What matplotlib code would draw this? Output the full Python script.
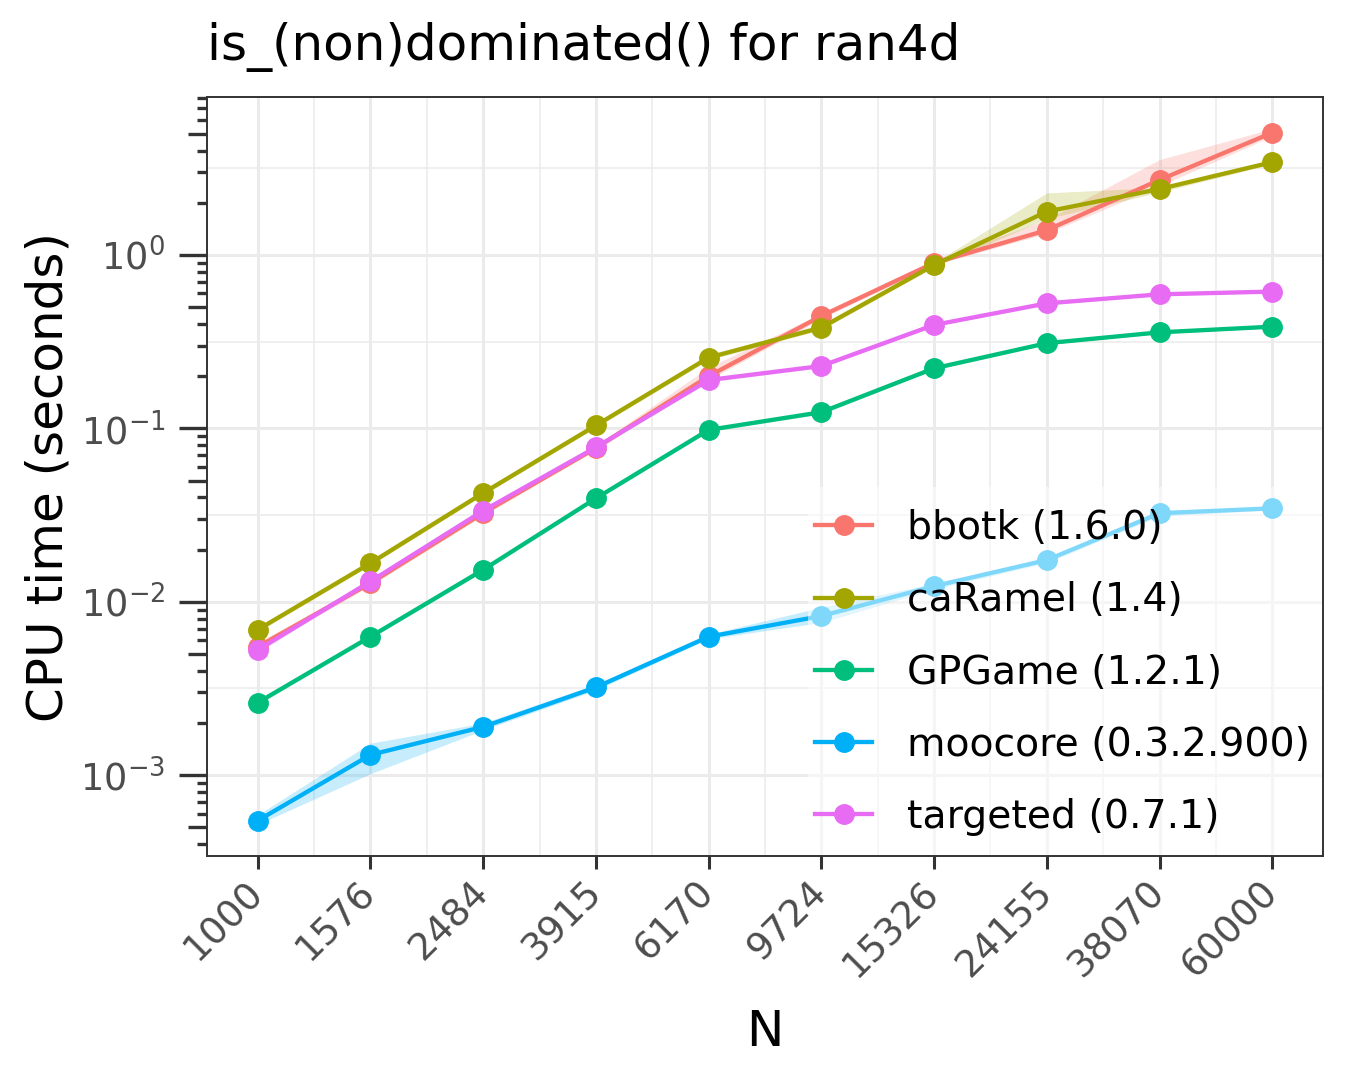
import numpy as np
import matplotlib
matplotlib.use("Agg")
import matplotlib.pyplot as plt
from matplotlib.patches import Rectangle
from matplotlib.ticker import FixedLocator, NullFormatter, FixedFormatter

# data
n_values = [1000, 1576, 2484, 3915, 6170, 9724, 15326, 24155, 38070, 60000]
n_labels = [str(n) for n in n_values]

packages = ["bbotk (1.6.0)", "caRamel (1.4)", "GPGame (1.2.1)",
            "moocore (0.3.2.900)", "targeted (0.7.1)"]
colors = ["#F8766D", "#A3A500", "#00BF7D", "#00B0F6", "#E76BF3"]

bbotk = [5.5e-3, 0.0128, 0.0325, 0.077, 0.20, 0.445, 0.90, 1.39, 2.71, 5.07]
bbotk_lo = [5.3e-3, 0.0124, 0.0315, 0.075, 0.19, 0.43, 0.88, 1.33, 2.50, 4.85]
bbotk_hi = [5.8e-3, 0.0133, 0.0335, 0.080, 0.225, 0.46, 0.93, 1.60, 3.55, 5.35]

caramel = [6.9e-3, 0.0167, 0.0424, 0.104, 0.256, 0.381, 0.875, 1.78, 2.40, 3.43]
caramel_lo = [6.7e-3, 0.0162, 0.0412, 0.101, 0.248, 0.37, 0.85, 1.62, 2.30, 3.35]
caramel_hi = [7.1e-3, 0.0172, 0.0436, 0.107, 0.265, 0.40, 0.90, 2.28, 2.45, 3.52]

gpgame = [2.62e-3, 6.29e-3, 0.0153, 0.0395, 0.098, 0.124, 0.222, 0.31, 0.358, 0.386]
gpgame_lo = [2.55e-3, 6.15e-3, 0.0150, 0.0388, 0.096, 0.121, 0.218, 0.305, 0.352, 0.380]
gpgame_hi = [2.70e-3, 6.45e-3, 0.0157, 0.0402, 0.100, 0.127, 0.226, 0.316, 0.364, 0.392]

moocore = [5.47e-4, 1.31e-3, 1.90e-3, 3.21e-3, 6.29e-3, 8.28e-3, 0.0123, 0.0174, 0.0324, 0.0346]
moocore_lo = [5.2e-4, 1.02e-3, 1.82e-3, 3.10e-3, 6.10e-3, 7.6e-3, 0.0118, 0.0168, 0.0312, 0.0338]
moocore_hi = [5.9e-4, 1.53e-3, 2.00e-3, 3.35e-3, 6.50e-3, 9.3e-3, 0.0128, 0.0180, 0.0336, 0.0354]

targeted = [5.27e-3, 0.0131, 0.0335, 0.0778, 0.19, 0.229, 0.395, 0.526, 0.593, 0.615]
targeted_lo = [5.1e-3, 0.0127, 0.0326, 0.0760, 0.185, 0.224, 0.388, 0.518, 0.585, 0.607]
targeted_hi = [5.45e-3, 0.0135, 0.0344, 0.0795, 0.196, 0.234, 0.402, 0.534, 0.601, 0.623]

series = [bbotk, caramel, gpgame, moocore, targeted]
lows = [bbotk_lo, caramel_lo, gpgame_lo, moocore_lo, targeted_lo]
highs = [bbotk_hi, caramel_hi, gpgame_hi, moocore_hi, targeted_hi]

y_decades = [1e-3, 1e-2, 1e-1, 1e0]
y_labels = ["$10^{-3}$", "$10^{-2}$", "$10^{-1}$", "$10^{0}$"]

grid_col = "#EBEBEB"
dark = "#333333"
tick_text = "#4D4D4D"

W, H = 1350, 1080
fig = plt.figure(figsize=(13.5, 10.8), dpi=100)
ax = fig.add_axes([207 / W, 1 - 856 / H, (1323 - 207) / W, (856 - 97) / H])
ax.set_xscale("log")
ax.set_yscale("log")

# limits with ggplot-like 5% expansion (log space)
lx = np.log10(n_values)
span = lx[-1] - lx[0]
ax.set_xlim(10 ** (lx[0] - 0.05 * span), 10 ** (lx[-1] + 0.05 * span))
ax.set_ylim(10 ** -3.466, 10 ** 0.911)

# grid
for xv in n_values:
    ax.axvline(xv, color=grid_col, lw=2.2, zorder=0)
for a, b in zip(lx[:-1], lx[1:]):
    ax.axvline(10 ** ((a + b) / 2), color=grid_col, lw=1.1, zorder=0)
for yv in y_decades:
    ax.axhline(yv, color=grid_col, lw=2.2, zorder=0)
for k in range(-4, 1):
    ax.axhline(10 ** (k + 0.5), color=grid_col, lw=1.1, zorder=0)

for vals, lo, hi, col in zip(series, lows, highs, colors):
    ax.fill_between(n_values, lo, hi, color=col, alpha=0.22, lw=0, zorder=2)
for vals, col, lab in zip(series, colors, packages):
    ax.plot(n_values, vals, color=col, lw=3.1, marker="o", ms=14,
            label=lab, zorder=3)

# x axis
ax.xaxis.set_major_locator(FixedLocator(n_values))
ax.xaxis.set_major_formatter(FixedFormatter(n_labels))
ax.xaxis.set_minor_locator(FixedLocator([]))
ax.tick_params(axis="x", which="major", length=9.4, width=2.2, color=dark,
               labelsize=27, labelcolor=tick_text, pad=13)
for lbl in ax.get_xticklabels():
    lbl.set_rotation(45)
    lbl.set_ha("right")
    lbl.set_va("center")
    lbl.set_rotation_mode("anchor")

# y axis: decades labelled, log ticks outside
ax.yaxis.set_major_locator(FixedLocator(y_decades))
ax.yaxis.set_major_formatter(FixedFormatter(y_labels))
minor_y = [m * 10.0 ** k for k in range(-4, 1) for m in (2, 3, 4, 6, 7, 8, 9)]
ax.yaxis.set_minor_locator(FixedLocator(minor_y))
ax.yaxis.set_minor_formatter(NullFormatter())
ax.tick_params(axis="y", which="major", length=20, width=2.4, color=dark,
               labelsize=26.5, labelcolor=tick_text, pad=10)
ax.tick_params(axis="y", which="minor", length=7.2, width=2.4, color=dark)

mid = ax.secondary_yaxis("left")
mid.set_yscale("log")
mid.yaxis.set_major_locator(FixedLocator([5 * 10.0 ** k for k in range(-4, 1)]))
mid.yaxis.set_major_formatter(NullFormatter())
mid.yaxis.set_minor_locator(FixedLocator([]))
mid.tick_params(axis="y", length=13.7, width=2.4, color=dark)
mid.spines["left"].set_visible(False)

for sp in ax.spines.values():
    sp.set_color(dark)
    sp.set_linewidth(1.4)
    sp.set_zorder(6)

fig.text(207 / W, 1 - 60 / H, "is_(non)dominated() for ran4d",
         fontsize=36, ha="left", va="baseline")
fig.text(765 / W, 1 - 1046 / H, "N", fontsize=36, ha="center", va="baseline")
fig.text(63 / W, 1 - 477 / H, "CPU time (seconds)", fontsize=36,
         rotation=90, rotation_mode="anchor", ha="center", va="baseline")

# legend: half-transparent white box in the lower right corner
x0 = (808 - 207) / 1116
ax.add_patch(Rectangle((x0, 0), 1 - x0, (856 - 487) / 759, transform=ax.transAxes,
                       facecolor="white", alpha=0.5, edgecolor="none", zorder=4))
leg = ax.legend(loc="upper left", bbox_to_anchor=((815 - 207) / 1116, (856 - 509) / 759),
                borderaxespad=0, borderpad=0, fontsize=28.4, frameon=False,
                handlelength=1.45, handletextpad=0.89, labelspacing=0.87)
leg.set_zorder(5)

fig.savefig("out.png", dpi=100)
